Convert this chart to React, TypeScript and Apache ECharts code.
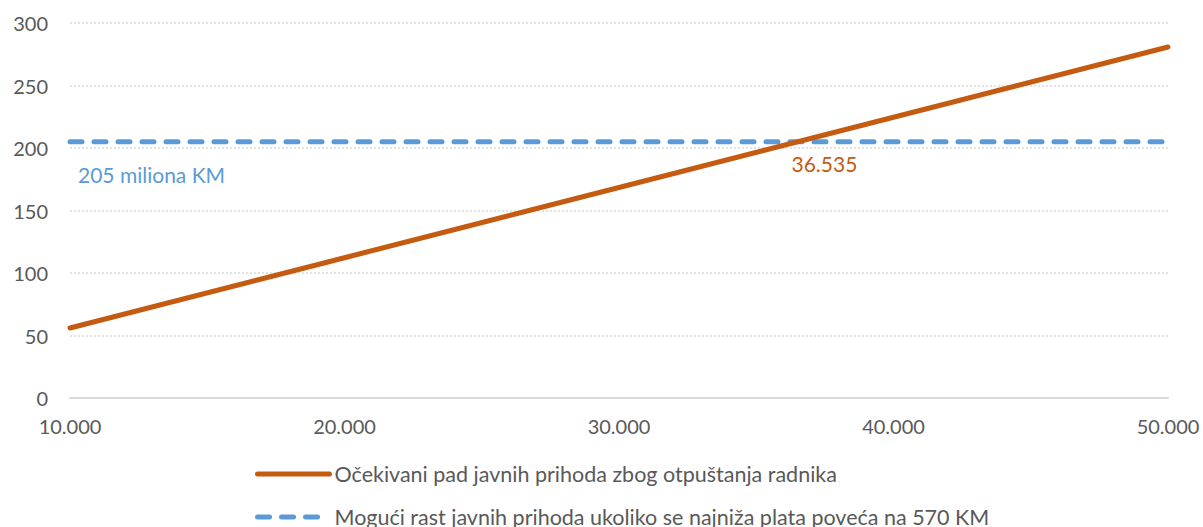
import React, { useEffect, useRef } from "react";
import * as echarts from "echarts";

const xValues = [10000, 20000, 30000, 40000, 50000];
const expectedDrop = [56, 112.2, 168.4, 224.6, 280.8];
const possibleGrowth = [205, 205, 205, 205, 205];
const seriesNames = [
  "Očekivani pad javnih prihoda zbog otpuštanja radnika",
  "Mogući rast javnih prihoda ukoliko se najniža plata poveća na 570 KM",
];
const intersection = [36535, 205];
const blueLabel = "205 miliona KM";

const ORANGE = "#C55A11";
const BLUE = "#5B9BD5";
const FONT = "Lato";

function fmt(v: number) {
  return String(v).replace(/\B(?=(\d{3})+(?!\d))/g, ".");
}

export default function App() {
  const ref = useRef<HTMLDivElement>(null);
  useEffect(() => {
    if (!ref.current) return;
    const chart = echarts.init(ref.current, undefined, { renderer: "svg" });
    chart.setOption({
      animation: false,
      textStyle: { fontFamily: FONT },
      grid: { left: 70, right: 35, top: 23, bottom: 129, containLabel: false },
      xAxis: {
        type: "value",
        min: 10000,
        max: 50000,
        interval: 10000,
        axisLine: { show: true, lineStyle: { color: "#D9D9D9", width: 2 } },
        axisTick: { show: false },
        splitLine: { show: false },
        axisLabel: {
          color: "#595959",
          fontSize: 20,
          fontFamily: FONT,
          margin: 18,
          formatter: (v: number) => fmt(v),
        },
      },
      yAxis: {
        type: "value",
        min: 0,
        max: 300,
        interval: 50,
        axisLine: { show: false },
        axisTick: { show: false },
        axisLabel: { color: "#595959", fontSize: 20, fontFamily: FONT, margin: 22 },
        splitLine: { show: true, lineStyle: { color: "#D9D9D9", type: [2, 2], width: 1.5 } },
      },
      legend: {
        orient: "vertical",
        left: 255,
        top: 462,
        height: 120,
        padding: 0,
        itemGap: 19,
        itemWidth: 72,
        itemHeight: 14,
        itemStyle: { opacity: 0 },
        lineStyle: { width: 5 },
        textStyle: { color: "#595959", fontSize: 21.5, fontFamily: FONT, lineHeight: 24 },
        data: seriesNames,
      },
      series: [
        {
          name: seriesNames[0],
          type: "line",
          data: xValues.map((x, i) => [x, expectedDrop[i]]),
          showSymbol: false,
          symbol: "none",
          lineStyle: { color: ORANGE, width: 5, cap: "round" },
          itemStyle: { color: ORANGE },
          z: 3,
          markPoint: {
            symbol: "circle",
            symbolSize: 0,
            data: [{ coord: intersection, value: intersection[0] }],
            label: {
              show: true,
              position: "inside",
              offset: [26, 22],
              formatter: () => fmt(intersection[0]),
              color: ORANGE,
              fontSize: 21,
              fontFamily: FONT,
            },
          },
        },
        {
          name: seriesNames[1],
          type: "line",
          data: xValues.map((x, i) => [x, possibleGrowth[i]]),
          showSymbol: false,
          symbol: "none",
          lineStyle: { color: BLUE, width: 5, type: [12, 12], cap: "round" },
          itemStyle: { color: BLUE },
          z: 2,
          markPoint: {
            symbol: "circle",
            symbolSize: 0,
            data: [{ coord: [xValues[0], possibleGrowth[0]], value: possibleGrowth[0] }],
            label: {
              show: true,
              position: "right",
              distance: 0,
              offset: [8, 33],
              formatter: () => blueLabel,
              color: BLUE,
              fontSize: 21,
              fontFamily: FONT,
            },
          },
        },
      ],
    });
    return () => chart.dispose();
  }, []);
  return (
    <div
      ref={ref}
      style={{ position: "absolute", left: 0, top: 0, width: 1203, height: 527, overflow: "hidden" }}
    />
  );
}
